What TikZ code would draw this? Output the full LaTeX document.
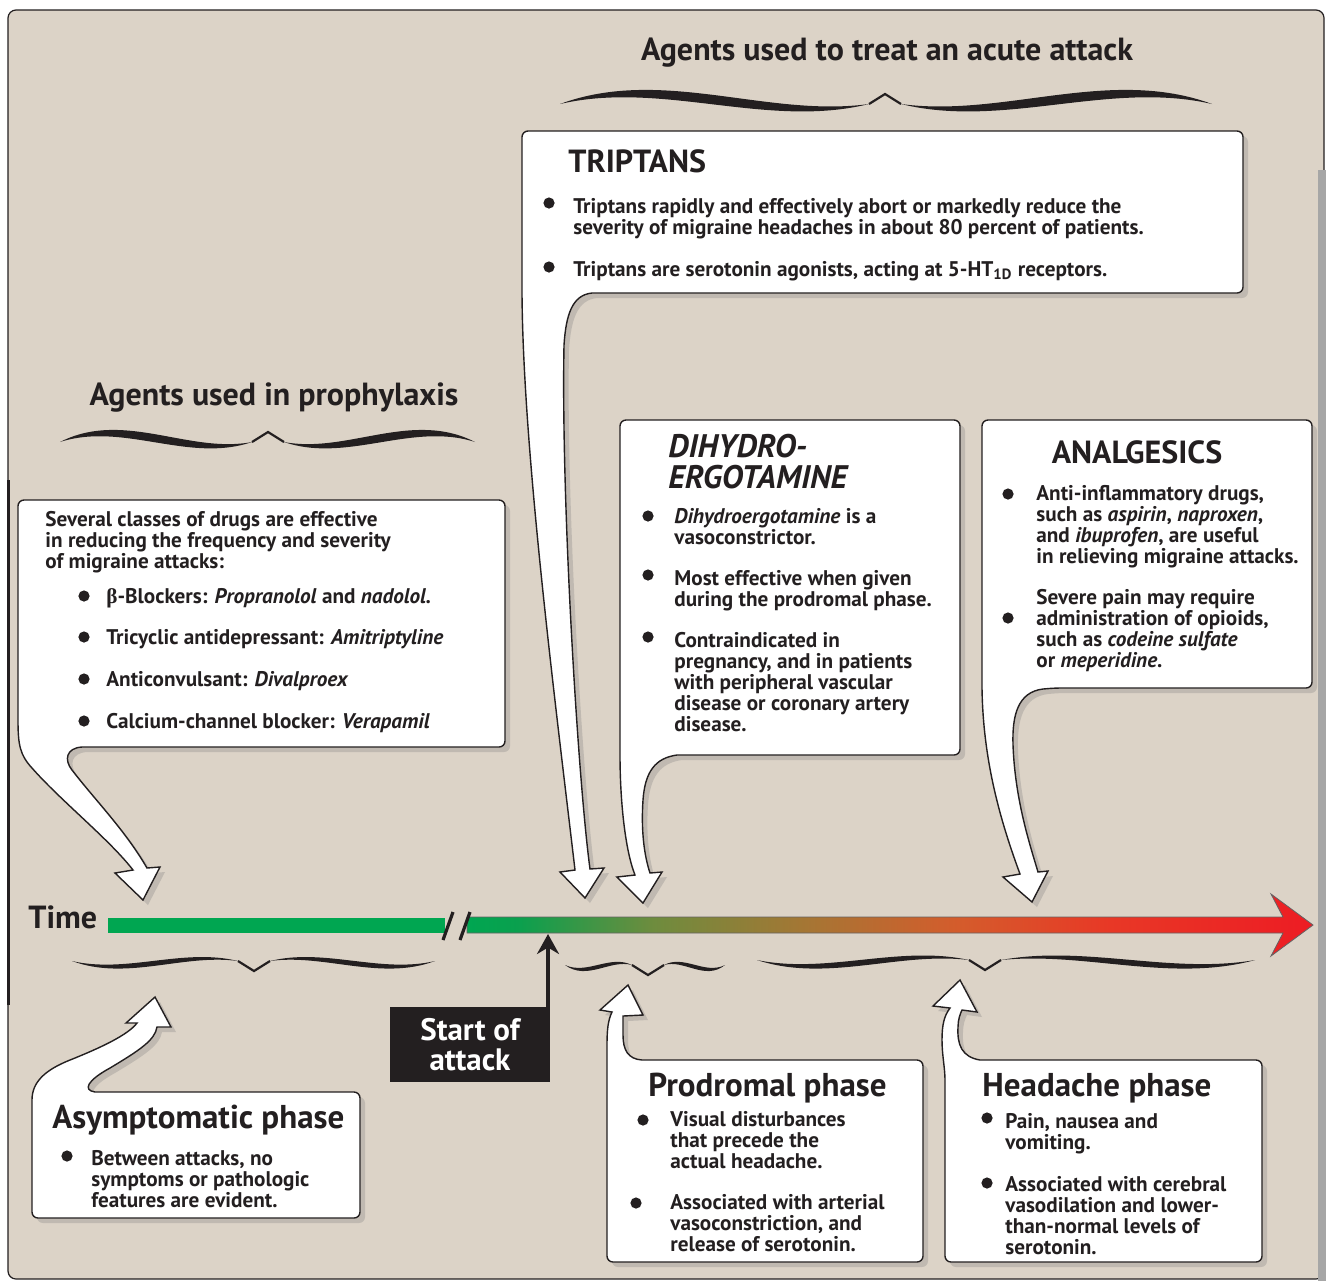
\documentclass[tikz,border=0pt]{standalone}
\usepackage{fontspec}
\setmainfont{PT Sans}
\newfontfamily\grk{Liberation Serif}
\usetikzlibrary{arrows.meta,shadows}
\definecolor{ink}{RGB}{35,31,32}
\definecolor{paper}{RGB}{220,211,199}
\definecolor{tgreen}{RGB}{0,166,81}
\definecolor{tgreenb}{RGB}{10,160,78}
\definecolor{tolive}{RGB}{110,140,62}
\definecolor{tbrown}{RGB}{165,118,52}
\definecolor{torange}{RGB}{212,92,44}
\definecolor{tredb}{RGB}{232,56,38}
\definecolor{tred}{RGB}{237,28,36}
\pgfdeclarehorizontalshading{timeshade}{100bp}{color(0bp)=(tgreen); color(25bp)=(tgreen); color(28bp)=(tgreenb); color(36bp)=(tolive); color(45bp)=(tbrown); color(54bp)=(torange); color(63bp)=(tredb); color(75bp)=(tred); color(100bp)=(tred)}
\tikzset{
	callout/.style={fill=white,draw=ink,line width=0.7pt,
		drop shadow={shadow xshift=2.5pt,shadow yshift=-2.5pt,opacity=.3}},
	body/.style={anchor=north west,inner sep=0pt,align=left,text=ink,
		font=\bfseries\fontsize{10.6}{10.5}\selectfont},
	head/.style={anchor=base west,inner sep=0pt,text=ink,
		font=\bfseries\fontsize{16}{18}\selectfont},
	phase/.style={anchor=base west,inner sep=0pt,text=ink,
		font=\bfseries\fontsize{16.5}{18}\selectfont},
	startbox/.style={fill=ink,text=white,minimum width=80pt,minimum height=37.5pt,
		align=center,inner sep=2pt,font=\bfseries\fontsize{15.5}{15}\selectfont},
}
% bullet dot
\newcommand{\bul}[2]{\fill[ink] (#1,#2) circle (2.8pt);}
% swash brace: left x, right x, tip x, y of ends, direction of tip (+1 down, -1 up), size
\newcommand{\swash}[6]{%
	\pgfmathsetmacro{\swxa}{#3-16}\pgfmathsetmacro{\swxb}{#3+16}%
	\pgfmathsetmacro{\swca}{#1+0.33*(\swxa-#1)}\pgfmathsetmacro{\swcb}{#1+0.67*(\swxa-#1)}%
	\pgfmathsetmacro{\swda}{\swxb+0.33*(#2-\swxb)}\pgfmathsetmacro{\swdb}{\swxb+0.67*(#2-\swxb)}%
	\fill[ink] (#1,#4) .. controls (\swca,{#4+#5*27*#6}) and (\swcb,{#4-#5*10*#6}) .. (\swxa,#4)
		.. controls (\swcb,{#4-#5*18*#6}) and (\swca,{#4+#5*17*#6}) .. (#1,#4) -- cycle;
	\fill[ink] (\swxb,#4) .. controls (\swda,{#4-#5*10*#6}) and (\swdb,{#4+#5*27*#6}) .. (#2,#4)
		.. controls (\swdb,{#4+#5*17*#6}) and (\swda,{#4-#5*18*#6}) .. (\swxb,#4) -- cycle;
	\draw[ink,line width=1.1pt,line join=miter] (\swxa,#4) -- (#3,{#4+#5*10}) -- (\swxb,#4);
}

\begin{document}
\begin{tikzpicture}[x=0.5pt,y=-0.5pt]
	\useasboundingbox (0,0) rectangle (1326,1281);
	\fill[white] (0,0) rectangle (1326,1281);
	\draw[fill=paper,draw=ink,line width=0.6pt,rounded corners=4pt] (8,10) rectangle (1324,1279);
	\fill[ink] (7,480) rectangle (10,1005);
	\fill[black!35] (1318,170) rectangle (1326,1281);

	% headings and braces
	\node[head,anchor=base] (acuteTitle) at (887,60) {Agents used to treat an acute attack};
	\swash{560}{1212}{885}{104}{-1}{1.4}
	\node[head,anchor=base] (prophTitle) at (274,405) {Agents used in prophylaxis};
	\swash{60}{475}{268}{442}{-1}{1.2}
	\swash{72}{435}{254}{961}{1}{0.75}
	\swash{565}{725}{648}{965}{1}{0.6}
	\swash{757}{1255}{985}{960}{1}{0.85}

	% callouts
	\path[callout] (18,720) [rounded corners=3pt] -- (18,500) -- (505,500) -- (505,747) -- (100,747)
		[sharp corners] -- (82,747) .. controls (66,748) and (64,760) .. (72,770)
		.. controls (95,800) and (125,830) .. (147,868) -- (160,867) -- (143,900) -- (115,873) -- (133,870)
		.. controls (110,840) and (60,800) .. (32,768) .. controls (20,755) and (18,745) .. (18,720) -- cycle;
	\path[callout] (522,293) [rounded corners=3pt] -- (522,131) -- (1243,131) -- (1243,293) -- (610,293)
		[sharp corners] -- (592,293) .. controls (572,295) and (566,315) .. (564,345)
		.. controls (561,500) and (578,780) .. (590,869) -- (604,868) -- (585,898) -- (560,872) -- (575,870)
		.. controls (555,700) and (523,450) .. (522,293) -- cycle;
	\path[callout] (620,755) [rounded corners=3pt] -- (620,420) -- (960,420) -- (960,755) -- (690,755)
		[sharp corners] -- (677,755) .. controls (655,758) and (645,772) .. (643,800)
		.. controls (641,830) and (644,855) .. (650,873) -- (662,872) -- (643,903) -- (617,877) -- (635,875)
		.. controls (625,850) and (620,800) .. (620,755) -- cycle;
	\path[callout] (982,688) [rounded corners=3pt] -- (982,420) -- (1312,420) -- (1312,688) -- (1055,688)
		[sharp corners] -- (1043,689) .. controls (1018,692) and (1012,715) .. (1013,745)
		.. controls (1015,800) and (1030,845) .. (1038,872) -- (1048,871) -- (1032,902) -- (1003,877) -- (1020,874)
		.. controls (1000,820) and (983,760) .. (982,688) -- cycle;
	\path[callout] (32,1100) [rounded corners=3pt] -- (32,1218) -- (360,1218) -- (360,1092) -- (105,1092)
		[sharp corners] -- (95,1092) .. controls (82,1090) and (88,1080) .. (110,1068)
		.. controls (140,1050) and (155,1040) .. (157,1027) -- (171,1027) -- (155,997) -- (126,1023) -- (137,1023)
		.. controls (128,1035) and (100,1048) .. (70,1060) .. controls (45,1070) and (32,1082) .. (32,1100) -- cycle;
	\path[callout] (607,1045) [rounded corners=3pt] -- (607,1262) -- (923,1262) -- (923,1060) -- (660,1060)
		[sharp corners] -- (642,1060) .. controls (628,1059) and (623,1050) .. (623,1035) -- (623,1016)
		-- (643,1015) -- (628,985) -- (600,1010) -- (612,1012) .. controls (608,1020) and (607,1030) .. (607,1045) -- cycle;
	\path[callout] (945,1080) [rounded corners=3pt] -- (945,1262) -- (1262,1262) -- (1262,1060) -- (1000,1060)
		[sharp corners] -- (980,1060) .. controls (962,1057) and (957,1045) .. (958,1027)
		.. controls (958,1020) and (960,1014) .. (962,1010) -- (977,1012) -- (960,980) -- (933,1006) -- (950,1008)
		.. controls (944,1016) and (942,1025) .. (942,1040) .. controls (942,1055) and (945,1068) .. (945,1080) -- cycle;

	% time axis
	\node[head,anchor=base west] (timeLabel) at (28,928) {Time};
	\fill[tgreen] (108,918) rectangle (445,933);
	\shadedraw[shading=timeshade,draw=ink!70,line width=0.4pt] (467,917) -- (1283,917) -- (1271,894) -- (1313,925)
		-- (1271,956) -- (1283,933) -- (467,933) -- cycle;
	\draw[ink,line width=1.6pt] (443,940) -- (453,912) (460,940) -- (470,912);
	\coordinate (onset) at (548,934);
	\node[startbox] (start) at (470,1044.5) {Start of\\attack};
	\draw[ink,line width=1.6pt,-{Stealth[length=10pt,width=11pt]}] (start.north -| onset) -- (onset);

	% prophylaxis
	\node[body] (proIntro) at (45,511) {Several classes of drugs are effective\\in reducing the frequency and severity\\of migraine attacks:};
	\node[body] (proA) at (106,588) {{\grk β}-Blockers: \textit{Propranolol} and \textit{nadolol.}};
	\node[body] (proB) at (106,629) {Tricyclic antidepressant: \textit{Amitriptyline}};
	\node[body] (proC) at (106,671) {Anticonvulsant: \textit{Divalproex}};
	\node[body] (proD) at (106,713) {Calcium-channel blocker: \textit{Verapamil}};
	\bul{84}{596}\bul{84}{637}\bul{84}{679}\bul{84}{721}

	% triptans
	\node[head] (tripTitle) at (568,172) {TRIPTANS};
	\node[body] (tripA) at (573,198) {Triptans rapidly and effectively abort or markedly reduce the\\severity of migraine headaches in about 80 percent of patients.};
	\node[body] (tripB) at (573,261) {Triptans are serotonin agonists, acting at 5-HT\textsubscript{1D} receptors.};
	\bul{549}{203}\bul{549}{267}

	% dihydroergotamine
	\node[head,anchor=north west,align=left,font=\bfseries\itshape\fontsize{16.3}{15.5}\selectfont] (dheTitle) at (668,434) {DIHYDRO-\\ERGOTAMINE};
	\node[body] (dheA) at (674,508) {\textit{Dihydroergotamine} is a\\vasoconstrictor.};
	\node[body] (dheB) at (674,570) {Most effective when given\\during the prodromal phase.};
	\node[body] (dheC) at (674,632) {Contraindicated in\\pregnancy, and in patients\\with peripheral vascular\\disease or coronary artery\\disease.};
	\bul{648}{516}\bul{648}{575}\bul{648}{637}

	% analgesics
	\node[head,anchor=base] (anaTitle) at (1137,463) {ANALGESICS};
	\node[body] (anaA) at (1036,485) {Anti-inflammatory drugs,\\such as \textit{aspirin}, \textit{naproxen},\\and \textit{ibuprofen}, are useful\\in relieving migraine attacks.};
	\node[body] (anaB) at (1036,589) {Severe pain may require\\administration of opioids,\\such as \textit{codeine sulfate}\\or \textit{meperidine}.};
	\bul{1008}{494}\bul{1008}{618}

	% phases
	\node[phase] (asymTitle) at (52,1128) {Asymptomatic phase};
	\node[body] (asymA) at (91,1150) {Between attacks, no\\symptoms or pathologic\\features are evident.};
	\bul{67}{1156}
	\node[phase] (prodTitle) at (648,1096) {Prodromal phase};
	\node[body] (prodA) at (670,1111) {Visual disturbances\\that precede the\\actual headache.};
	\node[body] (prodB) at (670,1194) {Associated with arterial\\vasoconstriction, and\\release of serotonin.};
	\bul{643}{1120}\bul{636}{1203}
	\node[phase] (headTitle) at (982,1096) {Headache phase};
	\node[body] (headA) at (1005,1113) {Pain, nausea and\\vomiting.};
	\node[body] (headB) at (1005,1176) {Associated with cerebral\\vasodilation and lower-\\than-normal levels of\\serotonin.};
	\bul{987}{1118}\bul{987}{1183}
\end{tikzpicture}
\end{document}
